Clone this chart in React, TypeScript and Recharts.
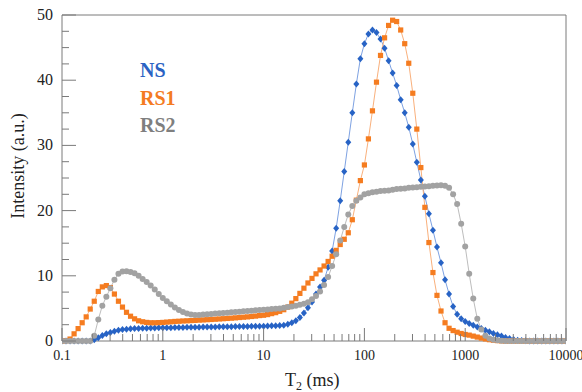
import { LineChart, Line, XAxis, YAxis, ReferenceLine } from 'recharts'

// T2 sampling grid (ms)
const T2 = [
  0.1, 0.1096, 0.1202, 0.1318, 0.1445, 0.1585, 0.1738, 0.1905, 0.2089, 0.2291, 0.2512, 0.2754, 0.302, 0.3311, 0.3631, 0.3981, 0.4365, 0.4786, 0.5248, 0.5754, 0.631, 0.6918, 0.7586, 0.8318, 0.912,
  1, 1.096, 1.202, 1.318, 1.445, 1.585, 1.738, 1.905, 2.089, 2.291, 2.512, 2.754, 3.02, 3.311, 3.631, 3.981, 4.365, 4.786, 5.248, 5.754, 6.31, 6.918, 7.586, 8.318, 9.12,
  10, 10.96, 12.02, 13.18, 14.45, 15.85, 17.38, 19.05, 20.89, 22.91, 25.12, 27.54, 30.2, 33.11, 36.31, 39.81, 43.65, 47.86, 52.48, 57.54, 63.1, 69.18, 75.86, 83.18, 91.2,
  100, 109.6, 120.2, 131.8, 144.5, 158.5, 173.8, 190.5, 208.9, 229.1, 251.2, 275.4, 302, 331.1, 363.1, 398.1, 436.5, 478.6, 524.8, 575.4, 631, 691.8, 758.6, 831.8, 912,
  1000, 1096, 1202, 1318, 1445, 1585, 1738, 1905, 2089, 2291, 2512, 2754, 3020, 3311, 3631, 3981, 4365, 4786, 5248, 5754, 6310, 6918, 7586, 8318, 9120,
  10000,
]

const NS = [
  0, 0, 0, 0, 0, 0, 0, 0, 0.2, 0.5, 0.85, 1.1, 1.3, 1.5, 1.65, 1.75, 1.82, 1.87, 1.9, 1.93, 1.95, 1.97, 1.99, 2.0, 2.02,
  2.03, 2.04, 2.05, 2.06, 2.07, 2.08, 2.09, 2.1, 2.11, 2.12, 2.13, 2.14, 2.15, 2.16, 2.17, 2.18, 2.19, 2.2, 2.21, 2.22, 2.23, 2.24, 2.25, 2.26, 2.27,
  2.28, 2.3, 2.32, 2.34, 2.37, 2.42, 2.55, 2.8, 3.1, 3.6, 4.3, 5.1, 6.0, 7.2, 8.3, 9.3, 11.3, 13.8, 17.3, 21.5, 26.0, 30.5, 35.0, 39.4, 43.3,
  45.6, 47.1, 47.7, 47.3, 46.3, 44.9, 43.0, 41.1, 39.2, 37.0, 35.0, 32.8, 30.2, 27.4, 24.7, 22.2, 19.5, 17.0, 14.4, 12.0, 9.4, 7.2, 5.3, 4.1, 3.4,
  3.0, 2.7, 2.4, 2.15, 1.9, 1.65, 1.4, 1.15, 0.95, 0.75, 0.55, 0.38, 0.24, 0.13, 0.06, 0.02, 0, 0, 0, 0, 0, 0, 0, 0, 0,
  0,
]

const RS1 = [
  0, 0.05, 0.3, 1.1, 1.9, 2.8, 3.7, 4.9, 6.1, 7.6, 8.3, 8.5, 8.2, 7.2, 6.1, 5.2, 4.4, 3.8, 3.4, 3.1, 2.95, 2.85, 2.8, 2.8, 2.82,
  2.85, 2.9, 2.95, 3.0, 3.03, 3.07, 3.1, 3.13, 3.16, 3.2, 3.23, 3.27, 3.3, 3.34, 3.38, 3.42, 3.46, 3.5, 3.55, 3.6, 3.65, 3.7, 3.76, 3.82, 3.9,
  3.95, 4.05, 4.2, 4.35, 4.55, 4.8, 5.2, 5.8, 6.5, 7.3, 8.1, 8.9, 9.6, 10.3, 10.9, 11.5, 12.2, 13.0, 13.9, 14.8, 15.6, 16.6, 18.6, 21.6, 24.6,
  27.0, 31.0, 35.3, 39.7, 43.8, 46.5, 48.4, 49.2, 49.0, 47.7, 45.6, 42.6, 38.0, 32.5, 26.6, 20.5, 15.1, 10.5, 7.0, 4.6, 2.8, 1.95, 1.6, 1.35, 1.15,
  1.0, 0.9, 0.75, 0.6, 0.45, 0.32, 0.2, 0.12, 0.06, 0.02, 0, 0, 0, 0, 0, 0, 0, 0, 0, 0, 0, 0, 0, 0, 0,
  0,
]

const RS2 = [
  0, 0, 0, 0, 0, 0, 0, 0, 0.8, 3.3, 5.4, 6.8, 8.1, 9.4, 10.3, 10.65, 10.7, 10.6, 10.4, 10.0, 9.5, 9.05, 8.5, 7.9, 7.2,
  6.6, 6.1, 5.6, 5.15, 4.75, 4.45, 4.2, 4.05, 4.0, 4.0, 4.05, 4.1, 4.15, 4.2, 4.25, 4.3, 4.35, 4.4, 4.45, 4.5, 4.55, 4.6, 4.65, 4.7, 4.75,
  4.8, 4.85, 4.9, 4.95, 5.0, 5.1, 5.2, 5.3, 5.4, 5.55, 5.7, 5.95, 6.4, 6.9, 7.6, 8.6, 9.8, 11.5, 13.3, 15.4, 17.5, 19.4, 20.7, 21.5, 22.0,
  22.5, 22.65, 22.8, 22.9, 23.0, 23.05, 23.1, 23.2, 23.3, 23.35, 23.4, 23.5, 23.55, 23.6, 23.65, 23.7, 23.75, 23.8, 23.85, 23.9, 23.8, 23.5, 22.5, 21.0, 18.0,
  14.5, 10.3, 6.5, 3.4, 1.75, 0.8, 0.4, 0.2, 0.1, 0.05, 0, 0, 0, 0, 0, 0, 0, 0, 0, 0, 0, 0, 0, 0, 0,
  0,
]

const X_TICKS = [
  0.1, 0.2, 0.3, 0.4, 0.5, 0.6, 0.7, 0.8, 0.9,
  1, 2, 3, 4, 5, 6, 7, 8, 9,
  10, 20, 30, 40, 50, 60, 70, 80, 90,
  100, 200, 300, 400, 500, 600, 700, 800, 900,
  1000, 2000, 3000, 4000, 5000, 6000, 7000, 8000, 9000,
  10000,
]
const X_MAJOR = [0.1, 1, 10, 100, 1000, 10000]
const Y_TICKS = [0, 2.5, 5, 7.5, 10, 12.5, 15, 17.5, 20, 22.5, 25, 27.5, 30, 32.5, 35, 37.5, 40, 42.5, 45, 47.5, 50]
const Y_MAJOR = [0, 10, 20, 30, 40, 50]

const SERIES = [
  { key: 'ns', name: 'NS', color: '#2763c5', line: '#7ea2e2' },
  { key: 'rs1', name: 'RS1', color: '#f57c20', line: '#f9b07c' },
  { key: 'rs2', name: 'RS2', color: '#a2a2a2', line: '#bdbdbd' },
]

const FONT = '"Liberation Serif", "Times New Roman", serif'
const AXIS = '#7a7a7a'

const data = T2.map((t, i) => ({ t, ns: NS[i], rs1: RS1[i], rs2: RS2[i] }))

function XTick(props: any) {
  const { x, y, payload } = props
  const major = X_MAJOR.includes(payload.value)
  return (
    <g>
      <line x1={x} x2={x} y1={y} y2={y - (major ? 13 : 7)} stroke={AXIS} strokeWidth={1} />
      {major && (
        <text x={x} y={y + 19} textAnchor="middle" fontSize={14} fontFamily={FONT} fill="#222">
          {payload.value}
        </text>
      )}
    </g>
  )
}

function YTick(props: any) {
  const { x, y, payload } = props
  const major = Y_MAJOR.includes(payload.value)
  return (
    <g>
      <line x1={x} x2={x + (major ? 14 : 7)} y1={y} y2={y} stroke={AXIS} strokeWidth={1} />
      {major && (
        <text x={x - 9} y={y + 5} textAnchor="end" fontSize={16} fontFamily={FONT} fill="#222">
          {payload.value}
        </text>
      )}
    </g>
  )
}

const diamond = (p: any) => {
  const { cx, cy, index } = p
  if (cx == null || cy == null) return <g key={`ns-${index}`} />
  return <path key={`ns-${index}`} d={`M${cx},${cy - 3.5}L${cx + 3},${cy}L${cx},${cy + 3.5}L${cx - 3},${cy}Z`} fill="#2763c5" />
}
const square = (p: any) => {
  const { cx, cy, index } = p
  if (cx == null || cy == null) return <g key={`rs1-${index}`} />
  return <rect key={`rs1-${index}`} x={cx - 2.6} y={cy - 2.6} width={5.2} height={5.2} fill="#f57c20" />
}
const circle = (p: any) => {
  const { cx, cy, index } = p
  if (cx == null || cy == null) return <g key={`rs2-${index}`} />
  return <circle key={`rs2-${index}`} cx={cx} cy={cy} r={3} fill="#a2a2a2" />
}
const DOTS: Record<string, any> = { ns: diamond, rs1: square, rs2: circle }

export default function App() {
  return (
    <div style={{ position: 'absolute', left: 0, top: 0, width: 582, height: 392, background: '#fff' }}>
      <LineChart width={582} height={392} data={data} margin={{ top: 15, right: 16, left: 0, bottom: 0 }}>
        <XAxis
          dataKey="t" type="number" scale="log" domain={[0.1, 10000]} ticks={X_TICKS} interval={0}
          allowDataOverflow height={51} tickSize={0} tickMargin={0} tickLine={false}
          axisLine={{ stroke: AXIS }} tick={<XTick />}
        />
        <YAxis
          type="number" domain={[0, 50]} ticks={Y_TICKS} interval={0} width={62}
          tickSize={0} tickMargin={0} tickLine={false} axisLine={{ stroke: AXIS }} tick={<YTick />}
        />
        <ReferenceLine y={50} stroke={AXIS} />
        <ReferenceLine x={10000} stroke={AXIS} />
        {SERIES.map(s => (
          <Line
            key={s.key} dataKey={s.key} name={s.name} type="linear"
            stroke={s.line} strokeWidth={1} dot={DOTS[s.key]} activeDot={false}
            isAnimationActive={false}
          />
        ))}
      </LineChart>
      <svg width={582} height={392} style={{ position: 'absolute', left: 0, top: 0, pointerEvents: 'none' }}>
        <text x={140} y={77} fontSize={20} fontWeight="bold" fontFamily={FONT} fill="#2a62c3">NS</text>
        <text x={140} y={105} fontSize={20} fontWeight="bold" fontFamily={FONT} fill="#f47b22">RS1</text>
        <text x={140} y={132} fontSize={20} fontWeight="bold" fontFamily={FONT} fill="#7f7f7f">RS2</text>
        <text transform="translate(24,166) rotate(-90)" textAnchor="middle" fontSize={18} fontFamily={FONT} fill="#222">
          Intensity (a.u.)
        </text>
        <text x={285} y={386} fontSize={18} fontFamily={FONT} fill="#222">
          T<tspan fontSize={12} dy={4}>2</tspan><tspan dy={-4}> (ms)</tspan>
        </text>
      </svg>
    </div>
  )
}
